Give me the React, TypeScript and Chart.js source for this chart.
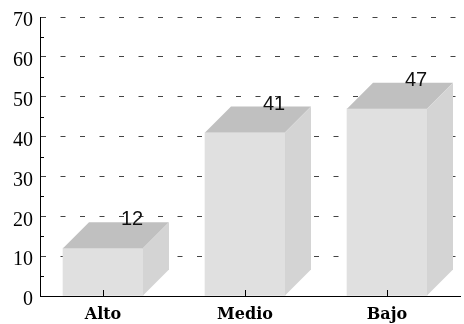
import React, { useEffect, useRef } from 'react';
import { Chart, registerables } from 'chart.js';

Chart.register(...registerables);

const categories = ['Alto', 'Medio', 'Bajo'];
const values = [12, 41, 47];
const yMin = 0;
const yMax = 70;
const yStep = 10;
const yMinorStep = 5;

const FRONT = '#e0e0e0';
const TOP = '#c0c0c0';
const SIDE = '#d4d4d4';
const DX = 26;
const DY = 26;

const box3d = {
  id: 'box3d',
  afterDatasetsDraw(chart: any) {
    const ctx = chart.ctx;
    const meta = chart.getDatasetMeta(0);
    const xs = chart.scales.x;
    const ys = chart.scales.y;
    ctx.save();
    meta.data.forEach((bar: any, i: number) => {
      const { x, y, base, width } = bar.getProps(['x', 'y', 'base', 'width'], true);
      const l = x - width / 2;
      const r = x + width / 2;
      ctx.fillStyle = TOP;
      ctx.beginPath();
      ctx.moveTo(l, y);
      ctx.lineTo(l + DX, y - DY);
      ctx.lineTo(r + DX, y - DY);
      ctx.lineTo(r, y);
      ctx.closePath();
      ctx.fill();
      ctx.fillStyle = SIDE;
      ctx.beginPath();
      ctx.moveTo(r, y);
      ctx.lineTo(r + DX, y - DY);
      ctx.lineTo(r + DX, base - DY);
      ctx.lineTo(r, base);
      ctx.closePath();
      ctx.fill();
      ctx.fillStyle = '#111';
      ctx.font = "20px 'Liberation Sans', Arial, sans-serif";
      ctx.textAlign = 'center';
      ctx.textBaseline = 'alphabetic';
      ctx.fillText(String(values[i]), x + DX + 3, y - DY + 3);
    });
    ctx.strokeStyle = '#000';
    ctx.lineWidth = 1;
    categories.forEach((_, i) => {
      const px = Math.round(xs.getPixelForValue(i)) + 0.5;
      ctx.beginPath();
      ctx.moveTo(px, ys.bottom);
      ctx.lineTo(px, ys.bottom - 6);
      ctx.stroke();
    });
    for (let v = yMin + yMinorStep; v < yMax; v += yStep) {
      const py = Math.round(ys.getPixelForValue(v)) + 0.5;
      ctx.beginPath();
      ctx.moveTo(ys.right, py);
      ctx.lineTo(ys.right + 4, py);
      ctx.stroke();
    }
    ctx.restore();
  },
};

export default function App() {
  const ref = useRef<HTMLCanvasElement | null>(null);
  useEffect(() => {
    document.body.style.margin = '0';
    const canvas = ref.current;
    if (!canvas) return;
    const chart = new Chart(canvas, {
      type: 'bar',
      data: {
        datasets: [
          {
            data: values.map((v, i) => ({ x: i, y: v })),
            backgroundColor: FRONT,
            borderWidth: 0,
            barThickness: 80,
          },
        ],
      },
      options: {
        animation: false,
        responsive: false,
        events: [],
        layout: { padding: { top: 17, right: 4, left: 0, bottom: 0 } },
        plugins: { legend: { display: false }, tooltip: { enabled: false } },
        scales: {
          x: {
            type: 'linear',
            offset: false,
            bounds: 'data',
            min: -0.4437,
            max: 2.514,
            afterBuildTicks: (scale: any) => {
              scale.ticks = categories.map((_, i) => ({ value: i }));
            },
            afterFit: (scale: any) => {
              scale.height = 28;
              scale.paddingLeft = 0;
              scale.paddingRight = 0;
            },
            grid: { display: false, drawTicks: false, offset: false },
            border: { display: true, color: '#000', width: 1, z: 1 },
            ticks: {
              autoSkip: false,
              maxRotation: 0,
              padding: 9,
              color: '#000',
              font: { family: "'DejaVu Serif', serif", size: 16, weight: 'bold' },
              callback: (v: any) => categories[Math.round(v)] ?? '',
            },
          },
          y: {
            min: yMin,
            max: yMax,
            afterFit: (scale: any) => {
              scale.width = 40;
              scale.paddingTop = 0;
              scale.paddingBottom = 0;
            },
            grid: {
              color: '#444',
              lineWidth: 1,
              drawTicks: false,
            },
            border: { display: true, color: '#000', width: 1, dash: [5, 14.5], z: 1 },
            ticks: {
              stepSize: yStep,
              padding: 7,
              labelOffset: 4,
              color: '#000',
              font: { family: "'Liberation Serif', 'Times New Roman', serif", size: 20 },
            },
          },
        },
      },
      plugins: [box3d],
    } as any);
    return () => chart.destroy();
  }, []);
  return (
    <div style={{ position: 'fixed', left: 0, top: 0, width: 464, height: 324 }}>
      <canvas ref={ref} width={464} height={324} style={{ display: 'block' }} />
    </div>
  );
}
